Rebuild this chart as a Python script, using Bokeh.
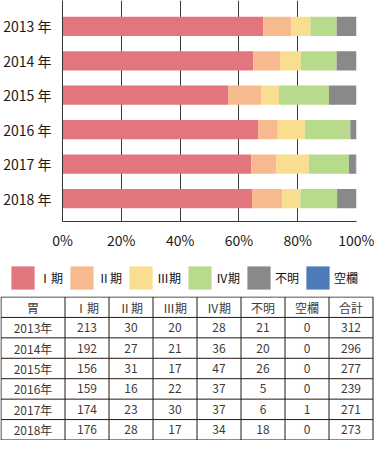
from bokeh.plotting import figure
from bokeh.models import Range1d, FixedTicker, Legend, LegendItem, ColumnDataSource
from bokeh.layouts import column
from bokeh.embed import file_html
from bokeh.resources import INLINE
from bokeh.core.properties import value

# ---------------- data ----------------
years = ["2013", "2014", "2015", "2016", "2017", "2018"]
stage1 = [213, 192, 156, 159, 174, 176]
stage2 = [30, 27, 31, 16, 23, 28]
stage3 = [20, 21, 17, 22, 30, 17]
stage4 = [28, 36, 47, 37, 37, 34]
unknown = [21, 20, 26, 5, 6, 18]
blank = [0, 0, 0, 0, 1, 0]
totals = [312, 296, 277, 239, 271, 273]
cat_labels = ["Ⅰ期", "Ⅱ期", "Ⅲ期", "Ⅳ期", "不明", "空欄"]
table_header = ["胃", "Ⅰ期", "Ⅱ期", "Ⅲ期", "Ⅳ期", "不明", "空欄", "合計"]
x_ticks = [0, 20, 40, 60, 80, 100]
colors = ["#E3757F", "#F7BA8F", "#F9DE8F", "#B7DA8D", "#898989", "#4E7AB8"]

FONT = "Noto Sans CJK JP"
TXT = "#231815"

series = [stage1, stage2, stage3, stage4, unknown, blank]
keys = ["s1", "s2", "s3", "s4", "s5", "s6"]
n = len(years)
data = {"y": [n - 1 - i for i in range(n)]}
for k, arr in zip(keys, series):
    data[k] = [v / t * 100 for v, t in zip(arr, totals)]
src = ColumnDataSource(data)

# ---------------- bar chart ----------------
p = figure(width=374, height=252, x_range=Range1d(0, 100), y_range=Range1d(-0.667, 5.75),
           output_backend="svg", toolbar_location=None, frame_align=False,
           min_border_left=0, min_border_right=18, min_border_top=0, min_border_bottom=26)
p.outline_line_color = None
rs = p.hbar_stack(keys, y="y", height=0.56, fill_color=colors, line_color=None, source=src)

p.xaxis.ticker = FixedTicker(ticks=x_ticks)
p.xaxis.major_label_overrides = {t: f"{t}%" for t in x_ticks}
p.yaxis.ticker = FixedTicker(ticks=list(range(n)))
p.yaxis.major_label_overrides = {n - 1 - i: f"{y} 年" for i, y in enumerate(years)}
for ax in (p.xaxis, p.yaxis):
    ax.axis_line_color = "#333333"
    ax.axis_line_width = 1
    ax.major_tick_line_color = None
    ax.minor_tick_line_color = None
    ax.major_label_text_font = FONT
    ax.major_label_text_font_size = "14px"
    ax.major_label_text_color = TXT
p.xaxis.major_label_standoff = 2
p.yaxis.major_label_standoff = 5
p.xgrid.ticker = FixedTicker(ticks=x_ticks)
p.xgrid.grid_line_color = "#3a3a3a"
p.xgrid.grid_line_width = 1
p.ygrid.visible = False

# ---------------- legend strip ----------------
lf = figure(width=374, height=44, x_range=Range1d(0, 1), y_range=Range1d(0, 1),
            output_backend="svg", toolbar_location=None, min_border=0, frame_align=False,
            x_axis_location=None, y_axis_location=None)
lf.outline_line_color = None
lf.grid.visible = False
items = []
for lab, c in zip(cat_labels, colors):
    r = lf.hbar(y=[-5], left=[-5], right=[-5], height=0.5, fill_color=c, line_color=None)
    items.append(LegendItem(label=lab, renderers=[r]))
leg = Legend(items=items, orientation="horizontal", location=(8, 4),
             glyph_width=29, glyph_height=29, label_standoff=2, label_width=25, spacing=3,
             padding=0, margin=0, border_line_color=None, background_fill_alpha=0,
             label_text_font=FONT, label_text_font_size="12px", label_text_color="#111111")
lf.add_layout(leg)

# ---------------- table ----------------
n_rows = n + 1
row_h = 143 / n_rows
col_w = [64] + [44] * (len(table_header) - 1)
t = figure(width=374, height=144, x_range=Range1d(0, 374), y_range=Range1d(144, 0),
           output_backend="svg", toolbar_location=None, min_border=0, frame_align=False,
           x_axis_location=None, y_axis_location=None)
t.outline_line_color = None
t.grid.visible = False

edges = [0.5]
for w in col_w:
    edges.append(edges[-1] + w)
top, bottom = 0.5, 0.5 + row_h * n_rows
row_edges = [top + r * row_h for r in range(n_rows + 1)]

t.segment(x0=edges, y0=[top] * len(edges), x1=edges, y1=[bottom] * len(edges),
          line_color=TXT, line_width=1)
t.segment(x0=[edges[0]] * len(row_edges), y0=row_edges, x1=[edges[-1]] * len(row_edges),
          y1=row_edges, line_color=TXT, line_width=1)

rows = [table_header]
for i, y in enumerate(years):
    rows.append([f"{y}年"] + [str(s[i]) for s in series] + [str(totals[i])])
tx, ty, tt = [], [], []
for r, row in enumerate(rows):
    for c, cell in enumerate(row):
        tx.append((edges[c] + edges[c + 1]) / 2)
        ty.append(top + r * row_h + row_h / 2)
        tt.append(cell)
t.text(x=tx, y=ty, text=tt, text_align="center", text_baseline="middle",
       text_font=value(FONT), text_font_size="12px", text_color="#3e3a39")

layout = column(p, lf, t)
open("out.html", "w").write(file_html(layout, INLINE))
